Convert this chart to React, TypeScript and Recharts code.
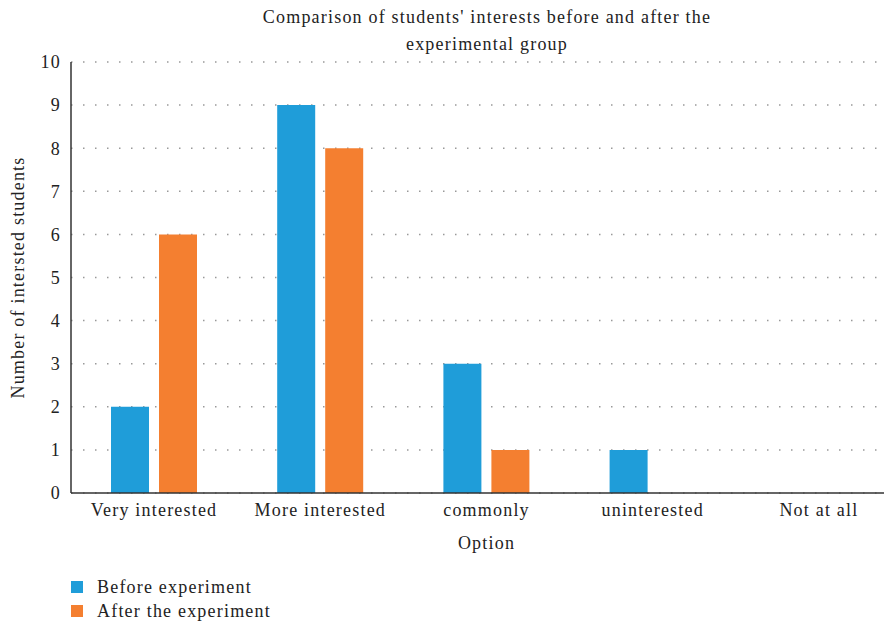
import React from 'react';
import {
  Bar,
  BarChart,
  CartesianGrid,
  Legend,
  XAxis,
  YAxis,
} from 'recharts';

const categories = ['Very interested', 'More interested', 'commonly', 'uninterested', 'Not at all'];
const beforeValues = [2, 9, 3, 1, 0];
const afterValues = [6, 8, 1, 0, 0];
const yTicks = [0, 1, 2, 3, 4, 5, 6, 7, 8, 9, 10];

const series = [
  { key: 'before', name: 'Before experiment', color: '#1F9DD9' },
  { key: 'after', name: 'After the experiment', color: '#F47F30' },
];

const data = categories.map((name, i) => ({
  name,
  before: beforeValues[i],
  after: afterValues[i],
}));

const font = '"Liberation Serif", "DejaVu Serif", serif';

const LegendBox = () => (
  <div style={{ height: 54, fontFamily: font, fontSize: 18, color: '#222' }}>
    {series.map((s) => (
      <div key={s.key} style={{ display: 'flex', alignItems: 'center', height: 24, paddingLeft: 63 }}>
        <span style={{ width: 12, height: 12, background: s.color, marginRight: 14 }} />
        {s.name}
      </div>
    ))}
  </div>
);

export default function App() {
  return (
    <div
      style={{
        position: 'relative',
        width: 884,
        height: 621,
        overflow: 'hidden',
        fontFamily: font,
        letterSpacing: 1.2,
      }}
    >
      <div
        style={{
          position: 'absolute',
          left: 179,
          top: -4,
          width: 600,
          textAlign: 'center',
          fontSize: 18,
          lineHeight: '27px',
          color: '#222',
        }}
      >
        Comparison of students' interests before and after the
        <br />
        experimental group
      </div>
      <BarChart
        width={900}
        height={621}
        data={data}
        margin={{ top: 54, right: 6, left: 0, bottom: 0 }}
        barSize={38}
        barGap={10}
      >
        <CartesianGrid vertical={false} stroke="#999" strokeWidth={1.5} strokeDasharray="1.5 10.5" />
        <XAxis
          dataKey="name"
          height={82}
          tickLine={false}
          axisLine={{ stroke: '#333', strokeWidth: 1.5 }}
          tick={{ fill: '#222', fontSize: 18, fontFamily: font }}
          tickMargin={4}
          interval={0}
          label={{ value: 'Option', position: 'insideTop', offset: 43, fill: '#222', fontSize: 18, fontFamily: font }}
        />
        <YAxis
          width={63}
          domain={[0, 10]}
          ticks={yTicks}
          tickLine={false}
          axisLine={{ stroke: '#333', strokeWidth: 1.5 }}
          tick={{ fill: '#222', fontSize: 18, fontFamily: font }}
          tickMargin={4}
          label={{
            value: 'Number of intersted students',
            angle: -90,
            position: 'insideLeft',
            offset: 10,
            fill: '#222',
            fontSize: 18,
            fontFamily: font,
            style: { textAnchor: 'middle' },
          }}
        />
        <Legend verticalAlign="bottom" align="left" content={<LegendBox />} wrapperStyle={{ left: 0, width: 884 }} />
        {series.map((s) => (
          <Bar key={s.key} dataKey={s.key} name={s.name} fill={s.color} isAnimationActive={false} />
        ))}
      </BarChart>
    </div>
  );
}
